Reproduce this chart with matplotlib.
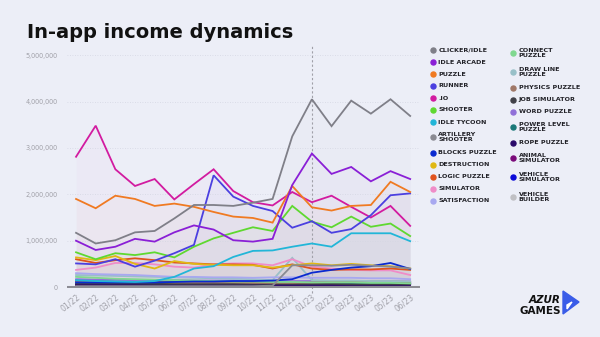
import matplotlib
matplotlib.use("Agg")
import matplotlib.pyplot as plt
import numpy as np
from matplotlib.lines import Line2D
from matplotlib.patches import Polygon

months = ["01/22", "02/22", "03/22", "04/22", "05/22", "06/22", "07/22", "08/22", "09/22",
          "10/22", "11/22", "12/22", "01/23", "02/23", "03/23", "04/23", "05/23", "06/23"]

clicker_idle = [1.17, 0.94, 1.01, 1.18, 1.21, 1.48, 1.77, 1.77, 1.75, 1.82, 1.90, 3.25, 4.05, 3.47, 4.02, 3.74, 4.05, 3.69]
idle_arcade = [1.00, 0.80, 0.87, 1.04, 0.98, 1.18, 1.33, 1.24, 1.01, 0.98, 1.04, 2.20, 2.88, 2.44, 2.59, 2.28, 2.50, 2.33]
puzzle = [1.90, 1.70, 1.97, 1.90, 1.75, 1.80, 1.73, 1.62, 1.52, 1.49, 1.39, 2.18, 1.72, 1.65, 1.75, 1.77, 2.27, 2.05]
runner = [0.51, 0.49, 0.60, 0.44, 0.57, 0.73, 0.91, 2.41, 1.95, 1.75, 1.64, 1.28, 1.42, 1.17, 1.25, 1.55, 1.98, 2.02]
io = [2.81, 3.48, 2.54, 2.18, 2.33, 1.89, 2.22, 2.54, 2.07, 1.83, 1.76, 2.05, 1.83, 1.97, 1.73, 1.50, 1.75, 1.32]
shooter = [0.75, 0.60, 0.73, 0.69, 0.75, 0.64, 0.87, 1.05, 1.17, 1.29, 1.21, 1.75, 1.41, 1.29, 1.52, 1.30, 1.37, 1.10]
idle_tycoon = [0.15, 0.13, 0.12, 0.11, 0.13, 0.22, 0.40, 0.45, 0.65, 0.78, 0.79, 0.87, 0.94, 0.87, 1.16, 1.16, 1.16, 0.99]
artillery_shooter = [0.02, 0.02, 0.02, 0.02, 0.02, 0.02, 0.02, 0.02, 0.02, 0.02, 0.03, 0.47, 0.47, 0.46, 0.48, 0.46, 0.44, 0.40]
blocks_puzzle = [0.10, 0.10, 0.10, 0.10, 0.10, 0.11, 0.12, 0.12, 0.13, 0.13, 0.14, 0.17, 0.31, 0.37, 0.42, 0.45, 0.52, 0.39]
destruction = [0.64, 0.58, 0.67, 0.50, 0.40, 0.56, 0.50, 0.48, 0.47, 0.47, 0.42, 0.47, 0.51, 0.47, 0.50, 0.47, 0.45, 0.40]
logic_puzzle = [0.60, 0.52, 0.58, 0.62, 0.58, 0.53, 0.51, 0.49, 0.49, 0.48, 0.40, 0.49, 0.40, 0.37, 0.38, 0.38, 0.40, 0.37]
simulator = [0.37, 0.42, 0.52, 0.52, 0.49, 0.44, 0.42, 0.49, 0.51, 0.51, 0.47, 0.60, 0.44, 0.40, 0.37, 0.36, 0.36, 0.26]
satisfaction = [0.30, 0.28, 0.27, 0.26, 0.24, 0.22, 0.22, 0.21, 0.21, 0.20, 0.21, 0.21, 0.20, 0.20, 0.20, 0.19, 0.19, 0.17]
connect_puzzle = [0.22, 0.20, 0.18, 0.17, 0.16, 0.15, 0.14, 0.13, 0.12, 0.12, 0.11, 0.11, 0.10, 0.10, 0.10, 0.09, 0.09, 0.08]
draw_line_puzzle = [0.26, 0.25, 0.24, 0.23, 0.22, 0.21, 0.20, 0.19, 0.18, 0.17, 0.15, 0.63, 0.15, 0.14, 0.14, 0.13, 0.13, 0.12]
physics_puzzle = [0.12, 0.12, 0.11, 0.11, 0.11, 0.10, 0.10, 0.10, 0.10, 0.09, 0.09, 0.09, 0.10, 0.11, 0.11, 0.12, 0.12, 0.11]
job_simulator = [0.08, 0.08, 0.08, 0.08, 0.07, 0.07, 0.07, 0.07, 0.07, 0.07, 0.07, 0.07, 0.07, 0.07, 0.06, 0.06, 0.06, 0.06]
word_puzzle = [0.17, 0.16, 0.16, 0.15, 0.15, 0.15, 0.14, 0.14, 0.14, 0.13, 0.13, 0.13, 0.13, 0.13, 0.12, 0.12, 0.12, 0.12]
power_level_puzzle = [0.13, 0.13, 0.12, 0.12, 0.12, 0.11, 0.11, 0.11, 0.10, 0.10, 0.10, 0.10, 0.09, 0.09, 0.09, 0.09, 0.08, 0.08]
rope_puzzle = [0.04, 0.04, 0.04, 0.04, 0.04, 0.04, 0.04, 0.04, 0.04, 0.04, 0.04, 0.04, 0.04, 0.04, 0.04, 0.04, 0.04, 0.04]
animal_simulator = [0.05, 0.05, 0.05, 0.05, 0.05, 0.05, 0.05, 0.05, 0.05, 0.05, 0.05, 0.05, 0.05, 0.05, 0.05, 0.05, 0.05, 0.05]
vehicle_simulator = [0.06, 0.06, 0.06, 0.06, 0.06, 0.06, 0.06, 0.06, 0.06, 0.06, 0.06, 0.06, 0.07, 0.07, 0.07, 0.07, 0.07, 0.07]
vehicle_builder = [0.03, 0.03, 0.03, 0.03, 0.03, 0.03, 0.03, 0.03, 0.03, 0.03, 0.03, 0.03, 0.03, 0.03, 0.03, 0.03, 0.03, 0.03]

series_names = ["CLICKER/IDLE", "IDLE ARCADE", "PUZZLE", "RUNNER", ".IO", "SHOOTER", "IDLE TYCOON",
                "ARTILLERY\nSHOOTER", "BLOCKS PUZZLE", "DESTRUCTION", "LOGIC PUZZLE", "SIMULATOR",
                "SATISFACTION", "CONNECT\nPUZZLE", "DRAW LINE\nPUZZLE", "PHYSICS PUZZLE", "JOB SIMULATOR",
                "WORD PUZZLE", "POWER LEVEL\nPUZZLE", "ROPE PUZZLE", "ANIMAL\nSIMULATOR", "VEHICLE\nSIMULATOR",
                "VEHICLE\nBUILDER"]
series_values = [clicker_idle, idle_arcade, puzzle, runner, io, shooter, idle_tycoon, artillery_shooter,
                 blocks_puzzle, destruction, logic_puzzle, simulator, satisfaction, connect_puzzle,
                 draw_line_puzzle, physics_puzzle, job_simulator, word_puzzle, power_level_puzzle,
                 rope_puzzle, animal_simulator, vehicle_simulator, vehicle_builder]
colors = ["#7f7f88", "#8a1fd6", "#f07a22", "#4b3fe0", "#d21ba0", "#5fd830", "#22b6d8", "#8a8a92",
          "#0a2ad0", "#e0b814", "#e0521c", "#f08cc8", "#a8a8f0", "#80d890", "#98c0c8", "#a07868",
          "#404048", "#9070d8", "#1a7878", "#2a0a6a", "#7a0a7a", "#0a0ad8", "#c0c0c4"]

yticks = [0, 1000000, 2000000, 3000000, 4000000, 5000000]
ytick_labels = ["0", "1,000,000", "2,000,000", "3,000,000", "4,000,000", "5,000,000"]

bg = "#eceef7"
W, H = 600, 337
fig = plt.figure(figsize=(6, 3.37), dpi=100, facecolor=bg)
ax = fig.add_axes([67 / W, 1 - 288 / H, (420 - 67) / W, (288 - 45) / H])
ax.set_facecolor(bg)

x = np.arange(len(months))
for name, vals, c in zip(series_names, series_values, colors):
    v = np.array(vals) * 1e6
    ax.fill_between(x, 0, v, color=c, alpha=0.02, lw=0)
order = list(range(len(series_names)))[::-1]
for k in order:
    v = np.array(series_values[k]) * 1e6
    ax.plot(x, v, color=colors[k], lw=1.3, zorder=3 + (len(order) - k) * 0.01, solid_joinstyle="miter")

ax.set_xlim(-0.46, 17.5)
ax.set_ylim(-0.02e6, 5.22e6)
ax.set_yticks(yticks)
ax.set_yticklabels(ytick_labels)
ax.set_xticks(x)
ax.set_xticklabels(months, rotation=38, ha="right", va="top", rotation_mode="anchor")
ax.tick_params(axis="both", length=0, colors="#a0a0a8", labelsize=5.3)
ax.tick_params(axis="y", pad=7, labelsize=4.7)
ax.tick_params(axis="x", pad=3)
for t in ax.get_xticklabels():
    t.set_fontsize(5.6)
for s in ax.spines.values():
    s.set_visible(False)
for yv in yticks[1:]:
    ax.axhline(yv, color="#d4d6e2", lw=0.6, ls=(0, (1, 2)), zorder=1)
ax.axhline(0, color="#8c8c94", lw=2.2, zorder=10)
ax.axvline(12, color="#a0a0a8", lw=0.8, ls=(0, (2, 2)), zorder=2, ymin=-0.02, clip_on=False)

fig.text(27 / W, 1 - 33 / H, "In-app income dynamics", fontsize=14, fontweight="bold",
         color="#111111", va="center", ha="left")

# legend
col1_y = [50, 62, 74, 86, 98, 110, 122, 137, 152.7, 164.7, 176.7, 188.7, 200.7]
col2_y = [52.7, 72, 87.7, 100, 111.7, 127.3, 143, 158.3, 177.3, 196.7]
for i, (name, c) in enumerate(zip(series_names, colors)):
    if i < 13:
        dx, yy = 432.7, col1_y[i]
    else:
        dx, yy = 513.3, col2_y[i - 13]
    fig.add_artist(Line2D([dx / W], [1 - yy / H], marker="o", ms=3.6, color=c, lw=0,
                          transform=fig.transFigure))
    fig.text((dx + 5.5) / W, 1 - yy / H, name, fontsize=4.6, fontweight="bold", color="#222228",
             va="center", ha="left", linespacing=0.95)

# logo
fig.text(561 / W, 1 - 300 / H, "AZUR", fontsize=7.5, fontweight="heavy", color="#111111",
         ha="right", va="center", style="italic")
fig.text(561 / W, 1 - 311 / H, "GAMES", fontsize=7.5, fontweight="heavy", color="#111111",
         ha="right", va="center")
tri = Polygon([[563 / W, 1 - 291 / H], [579 / W, 1 - 302 / H], [563 / W, 1 - 314 / H]],
              closed=True, transform=fig.transFigure, color="#3a5ce8")
fig.add_artist(tri)
tri2 = Polygon([[567 / W, 1 - 305 / H], [572 / W, 1 - 302 / H], [567 / W, 1 - 309 / H]],
               closed=True, transform=fig.transFigure, color="white")
fig.add_artist(tri2)

fig.savefig("out.png", dpi=100, facecolor=bg)
